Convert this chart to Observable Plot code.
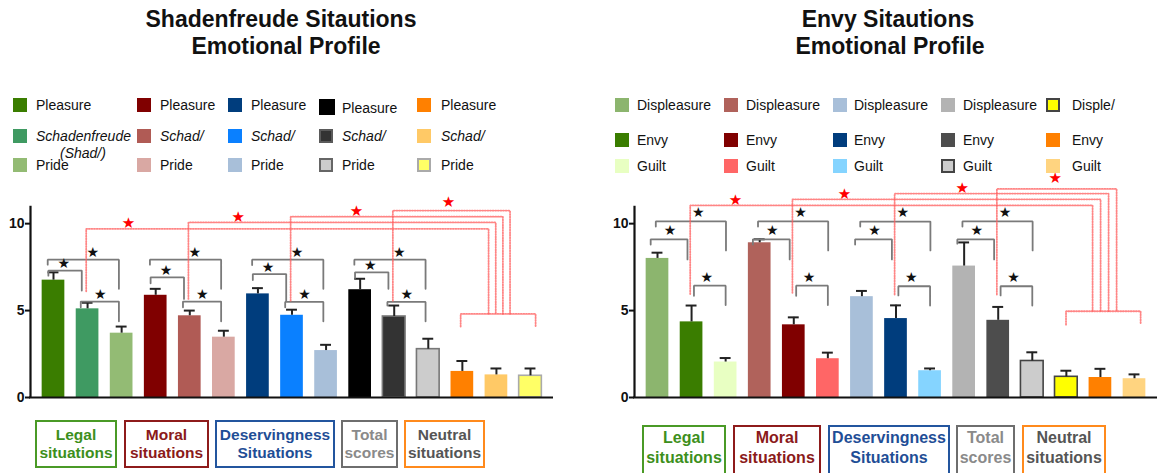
<!DOCTYPE html>
<html>
<head>
<meta charset="utf-8">
<script src="https://cdn.jsdelivr.net/npm/d3@7"></script>
<script src="https://cdn.jsdelivr.net/npm/@observablehq/plot@0.6"></script>
<style>
html,body{margin:0;padding:0;background:#fff;}
#page{position:relative;width:1164px;height:473px;overflow:hidden;font-family:"Liberation Sans",Arial,Helvetica,sans-serif;color:#111;}
.a{position:absolute;white-space:nowrap;}
.t{font-weight:bold;font-size:23px;line-height:27px;transform:translateX(-50%);color:#111;}
.sw{position:absolute;box-sizing:border-box;}
.lt{font-size:14px;line-height:16px;}
.box{position:absolute;box-sizing:border-box;border:2px solid;font-weight:bold;text-align:center;white-space:nowrap;overflow:hidden;}
</style>
</head>
<body>
<div id="page"></div>
<script>
// ---------------- data ----------------
const groupLabels = [["Legal","situations"],["Moral","situations"],["Deservingness","Situations"],["Total","scores"],["Neutral","situations"]];
const groupBorder = ["#4a9a26","#8e1b1b","#23559e","#6e6e6e","#ff8a1c"];
const groupText   = ["#3d8f1c","#8b1a1a","#1f4e96","#8a8a8a","#555555"];

const schadTitle = ["Shadenfreude Sitautions","Emotional Profile"];
const envyTitle  = ["Envy Sitautions","Emotional Profile"];

const schadEmotions = ["Pleasure","Schad/","Pride"];
const schadFirstSchad = ["Schadenfreude","(Shad/)"];
const envyEmotions = ["Displeasure","Envy","Guilt"];
const envyNeutralDispl = "Disple/";
const yTicks = [0,5,10];

// bar means and error bars (order: group x emotion)
const schadValues = [6.75,5.10,3.70, 5.88,4.70,3.47, 5.96,4.73,2.70, 6.20,4.66,2.78, 1.50,1.30,1.25];
const schadErrors = [0.45,0.35,0.38, 0.37,0.30,0.37, 0.33,0.32,0.33, 0.63,0.63,0.60, 0.60,0.37,0.42];
const envyValues  = [8.00,4.35,2.04, 8.90,4.18,2.23, 5.80,4.54,1.54, 7.56,4.44,2.10, 1.19,1.15,1.08];
const envyErrors  = [0.33,0.94,0.23, 0.20,0.43,0.35, 0.33,0.76,0.13, 1.36,0.77,0.50, 0.35,0.50,0.25];

const schadFills = ["#3a7d00","#3f9a62","#93bb74", "#800000","#b05b55","#d9a8a3", "#003d7d","#0a80ff","#a8bfd9", "#000000","#333333","#cccccc", "#ff8000","#ffc966","#ffff66"];
const schadStrokes = [null,null,null, null,null,null, null,null,null, null,"#7a7a7a","#777777", null,null,"#aaaaaa"];
const envyFills = ["#8cb56e","#3a7d00","#e8ffc2", "#b0625b","#800000","#ff6666", "#a8bfd9","#003d7d","#85d4ff", "#b3b3b3","#4d4d4d","#cccccc", "#ffff00","#ff8000","#ffd480"];
const envyStrokes = [null,null,null, null,null,null, null,null,null, null,null,"#444444", "#444444",null,null];

// significance brackets: [fromBar, toBar, level, leftEnd, rightEnd]
const schadBrackets = [
  [0,1,7.30,7.01,6.15],[0,2,7.93,7.64,6.25],[1,2,5.52,5.19,4.38],
  [3,4,6.91,6.57,5.67],[3,5,7.93,7.64,6.25],[4,5,5.52,5.19,4.38],
  [6,7,7.10,6.76,5.57],[6,8,7.93,7.62,6.25],[7,8,5.50,5.19,4.38],
  [9,10,7.20,6.88,6.25],[9,11,7.93,7.64,6.25],[10,11,5.50,5.29,4.38]
];
const envyBrackets = [
  [0,1,9.10,8.80,7.94],[0,2,10.13,9.83,8.46],[1,2,6.43,5.85,5.32],
  [3,4,9.10,8.80,7.94],[3,5,10.13,9.83,8.46],[4,5,6.43,5.85,5.32],
  [6,7,9.10,8.80,7.94],[6,8,10.12,9.83,8.46],[7,8,6.40,5.87,5.29],
  [9,10,9.09,8.85,7.94],[9,11,10.13,9.83,8.46],[10,11,6.40,5.87,5.29]
];
// comparisons with neutral situations: [fromBar, legEnd, level, starX, starY]
const schadRed = [[1,6.11,9.70,2.20,10.04],[4,5.67,10.07,5.42,10.40],[7,5.57,10.40,8.89,10.72],[10,5.57,10.75,11.59,11.26]];
const envyRed  = [[1,5.95,11.05,2.29,11.36],[4,6.02,11.40,5.49,11.69],[7,5.92,11.73,8.94,12.02],[10,5.92,12.00,11.67,12.60]];
// neutral bracket: [x1, x2, level, legEnd]
const schadRedNeutral = [11.95,14.15,4.81,4.08];
const envyRedNeutral  = [11.99,14.18,4.96,4.19];

// ---------------- layout ----------------
const page = document.getElementById("page");
const xDomain = [-0.675, 14.675];

function el(cls, css, html) {
  const d = document.createElement("div");
  d.className = cls;
  Object.assign(d.style, css);
  if (html != null) d.innerHTML = html;
  page.appendChild(d);
  return d;
}

function chart(p) {
  const bars = p.values.map((v,i)=>({i, v, e:p.errors[i], fill:p.fills[i], stroke:p.strokes[i] || "none"}));
  const bPts = [], bStars = [];
  p.brackets.forEach(([from,to,level,dl,dr],k)=>{
    const t = to-from===2 ? "B" : (from%3===0 ? "A" : "C");
    const o = p.off[t];
    const x1 = from+o[0], x2 = to+o[1];
    bPts.push({k,x:x1,y:dl},{k,x:x1,y:level},{k,x:x2,y:level},{k,x:x2,y:dr});
    bStars.push({x: from+o[2], y: level+p.starDy});
  });
  const rPts = [], rStars = [];
  const [n1,n2,nl,nd] = p.redNeutral;
  p.red.forEach(([from,end,level,sx,sy],k)=>{
    const lx = from + p.redLegOff, vx = p.redVx0 + p.redVdx*k;
    rPts.push({k,x:lx,y:end},{k,x:lx,y:level},{k,x:vx,y:level},{k,x:vx,y:nl});
    rStars.push({x:sx,y:sy});
  });
  rPts.push({k:99,x:n1,y:nd},{k:99,x:n1,y:nl},{k:99,x:n2,y:nl},{k:99,x:n2,y:nd});
  return Plot.plot({
    width: p.width, height: 242,
    marginLeft: 30, marginRight: p.marginRight, marginTop: 3, marginBottom: 13,
    x: {domain: xDomain, axis: null},
    y: {domain: [0,13], axis: null},
    color: {type: "identity"},
    style: {background: "transparent", fontFamily: "Liberation Sans, Arial, sans-serif", overflow: "visible"},
    marks: [
      Plot.rectY(bars, {x1: d=>d.i-0.333, x2: d=>d.i+0.333, y1: 0, y2: "v", fill: "fill", stroke: "stroke", strokeWidth: 1.6}),
      Plot.ruleX(bars, {x: "i", y1: "v", y2: d=>d.v+d.e, stroke: "#222", strokeWidth: 2}),
      Plot.ruleY(bars, {y: d=>d.v+d.e, x1: d=>d.i-0.16, x2: d=>d.i+0.16, stroke: "#222", strokeWidth: 2}),
      Plot.line(bPts, {x: "x", y: "y", z: "k", stroke: "#7a7a7a", strokeWidth: 1.8, strokeLinejoin: "miter"}),
      Plot.line(rPts, {x: "x", y: "y", z: "k", stroke: "#ff5c5c", strokeWidth: 1.8, strokeDasharray: "1 1.6", strokeOpacity: 0.75, strokeLinejoin: "miter"}),
      Plot.text(bStars, {x: "x", y: "y", text: () => "★", fontSize: 14, fill: "#111", fontFamily: "DejaVu Sans"}),
      Plot.text(rStars, {x: "x", y: "y", text: () => "★", fontSize: 15, fill: "#f00", fontFamily: "DejaVu Sans"}),
      Plot.ruleY([0], {x1: xDomain[0]-0.03, x2: xDomain[1], stroke: "#111", strokeWidth: 2.2}),
      Plot.ruleX([xDomain[0]], {y1: 0, y2: 11, stroke: "#111", strokeWidth: 2.2}),
      Plot.axisY({ticks: yTicks, tickSize: 5, tickPadding: 1, fontSize: 14, fontWeight: "bold", strokeWidth: 2, tickFormat: d=>String(d), label: null})
    ]
  });
}

function placeChart(svg, left) {
  const w = document.createElement("div");
  w.style.position = "absolute"; w.style.left = left+"px"; w.style.top = "168px";
  w.appendChild(svg);
  page.appendChild(w);
}

placeChart(chart({
  values: schadValues, errors: schadErrors, fills: schadFills, strokes: schadStrokes,
  brackets: schadBrackets,
  off: {A: [-0.15,-0.17,0.30], B: [-0.17,-0.08,1.15], C: [-0.20,-0.08,0.37]},
  starDy: 0.40,
  red: schadRed, redNeutral: schadRedNeutral, redLegOff: -0.04, redVx0: 12.77, redVdx: 0.21,
  width: 580, marginRight: 27
}), 0);

placeChart(chart({
  values: envyValues, errors: envyErrors, fills: envyFills, strokes: envyStrokes,
  brackets: envyBrackets,
  off: {A: [-0.20,-0.12,0.37], B: [-0.05,0.01,1.20], C: [0.07,0.00,0.45]},
  starDy: 0.50,
  red: envyRed, redNeutral: envyRedNeutral, redLegOff: -0.04, redVx0: 12.77, redVdx: 0.235,
  width: 560, marginRight: 7
}), 604);

// titles
el("a t", {left: "281px", top: "6px"}, schadTitle[0]);
el("a t", {left: "286px", top: "33px"}, schadTitle[1]);
el("a t", {left: "888px", top: "6px"}, envyTitle[0]);
el("a t", {left: "890px", top: "33px"}, envyTitle[1]);

// legends
function legend(cfg) {
  for (let c = 0; c < 5; c++) {
    for (let r = 0; r < 3; r++) {
      const idx = c*3 + r;
      const isBig = cfg.big && cfg.big[0]===c && cfg.big[1]===r;
      const size = isBig ? cfg.size+2 : cfg.size;
      const cy = cfg.rowY[r] + (isBig ? 2 : 0);
      const st = cfg.strokes[idx];
      el("sw", {left: cfg.swX[c]+"px", top: (cy - size/2)+"px", width: size+"px", height: size+"px",
        background: cfg.fills[idx], border: st ? ("2px solid " + (cfg.legStroke[idx] || st)) : "none"});
      el("a lt", {left: cfg.txX[c]+"px", top: (cy - 8 + (isBig ? 1 : 0))+"px",
        fontStyle: (cfg.italicRow===r) ? "italic" : "normal"}, cfg.label(c, r));
    }
  }
}
const schadLegStroke = {10: "#5a5a5a", 11: "#666666", 14: "#aaaaaa"};
const schadLegStrokes = schadStrokes.slice(); schadLegStrokes[10] = "#5a5a5a";
legend({
  fills: schadFills, strokes: schadLegStrokes, legStroke: schadLegStroke,
  swX: [13, 137, 228, 319, 417], txX: [36, 160, 251, 342, 441], rowY: [105, 136, 165], size: 14,
  big: [3,0], italicRow: 1,
  label: (c, r) => (c===0 && r===1) ? schadFirstSchad[0] : schadEmotions[r]
});
el("a lt", {left: "60px", top: "145px", fontStyle: "italic"}, schadFirstSchad[1]);

legend({
  fills: envyFills, strokes: envyStrokes, legStroke: {},
  swX: [615, 724, 833, 941, 1046], txX: [637, 746, 854, 963, 1072], rowY: [105, 139.5, 166], size: 14,
  italicRow: -1,
  label: (c, r) => (c===4 && r===0) ? envyNeutralDispl : envyEmotions[r]
});

// group boxes
const schadBoxX = [[35,117],[124,209],[215,335],[341,398],[404,485]];
const envyBoxX  = [[642,726],[733,821],[828,950],[956,1015],[1022,1106]];
function boxes(xs, top, h, fs, lh, pad) {
  xs.forEach(([x1,x2], g) => {
    el("box", {left: x1+"px", top: top+"px", width: (x2-x1)+"px", height: h+"px",
      borderColor: groupBorder[g], color: groupText[g], fontSize: fs+"px", lineHeight: lh+"px", paddingTop: pad+"px"},
      groupLabels[g][0] + "<br>" + groupLabels[g][1]);
  });
}
boxes(schadBoxX, 420, 48, 15.5, 18, 4);
boxes(envyBoxX, 425, 52, 16, 20, 1);
</script>
</body>
</html>
